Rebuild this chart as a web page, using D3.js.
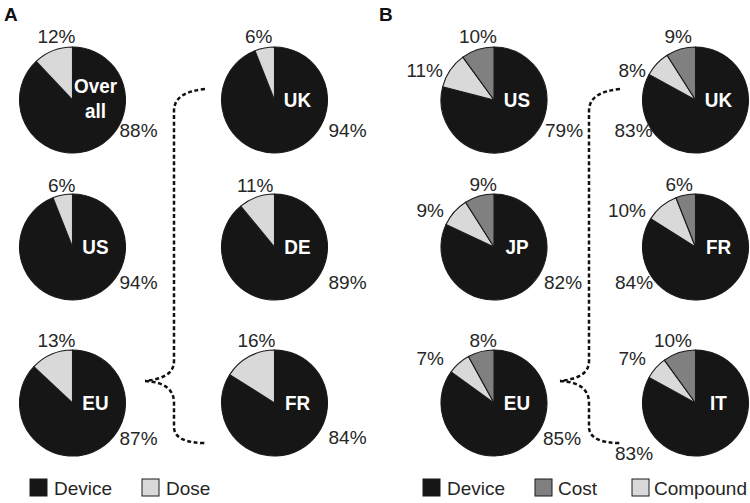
<!DOCTYPE html>
<html><head><meta charset="utf-8">
<script src="https://cdn.jsdelivr.net/npm/d3@7"></script>
<style>
html,body{margin:0;padding:0;background:#fff;}
svg{display:block;font-family:"Liberation Sans",Arial,sans-serif;}
</style></head>
<body>
<svg id="chart" width="750" height="503"></svg>
<script>
// ---- data ----
const regionsA = ["Over all", "UK", "US", "DE", "EU", "FR"];
const deviceA = [88, 94, 94, 89, 87, 84];
const doseA = [12, 6, 6, 11, 13, 16];

const regionsB = ["US", "UK", "JP", "FR", "EU", "IT"];
const deviceB = [79, 83, 82, 84, 85, 83];
const compoundB = [11, 8, 9, 10, 7, 7];
const costB = [10, 9, 9, 6, 8, 10];

const legendA = ["Device", "Dose"];
const legendB = ["Device", "Cost", "Compound"];

// ---- layout (not data) ----
const W = 750, H = 503, R = 53;
const rowY = [100, 247, 403];
const colXA = [72.5, 274.5];
const colXB = [494, 695.5];
const color = {Device: "#161616", Dose: "#d9d9d9", Cost: "#808080", Compound: "#d9d9d9"};

// label offsets relative to pie centre: [dx, dy] for each slice label
const labA = [
  {dev: [47, 37], top: [3, -57]}, {dev: [54, 37], top: [-2, -57]},
  {dev: [47, 42], top: [3, -55]}, {dev: [54, 42], top: [-1, -55]},
  {dev: [47, 42], top: [3, -56]}, {dev: [54, 41], top: [1, -56]}
];
const labB = [
  {dev: [51, 37], cost: [3, -57], comp: [-51, -23]},
  {dev: [-81, 37], cost: [-3.5, -57], comp: [-49.5, -23]},
  {dev: [50, 42], cost: [3, -56], comp: [-50, -30]},
  {dev: [-80.5, 42], cost: [-2.5, -56], comp: [-49.5, -30]},
  {dev: [49, 42], cost: [3, -56], comp: [-50, -38]},
  {dev: [-80.5, 57], cost: [-3.5, -56], comp: [-49.5, -38]}
];

const svg = d3.select("#chart");
const pie = d3.pie().sort(null).value(d => d.v);
const arc = d3.arc().innerRadius(0).outerRadius(R);

function drawPie(cx, cy, slices) {
  const g = svg.append("g").attr("transform", `translate(${cx},${cy})`);
  g.selectAll("path").data(pie(slices)).join("path")
    .attr("d", arc)
    .attr("fill", d => color[d.data.k])
    .attr("stroke", "#1a1a1a")
    .attr("stroke-width", 1.1)
    .attr("stroke-linejoin", "round");
  return g;
}

function pct(x, y, txt, anchor) {
  svg.append("text").attr("x", x).attr("y", y)
    .attr("text-anchor", anchor)
    .attr("font-size", 19).attr("fill", "#262626")
    .text(txt + "%");
}

function centerLabel(cx, cy, name) {
  const lines = name.split(" ");
  const t = svg.append("text")
    .attr("transform", `translate(${cx + 23},${cy + (lines.length > 1 ? -7 : 7)}) scale(0.9,1)`)
    .attr("text-anchor", "middle").attr("font-size", 21).attr("font-weight", "bold")
    .attr("fill", "#fff");
  lines.forEach((l, i) => t.append("tspan").attr("x", 0).attr("dy", i === 0 ? 0 : 25).text(l));
}

// Panel A
regionsA.forEach((name, i) => {
  const cx = colXA[i % 2], cy = rowY[Math.floor(i / 2)];
  drawPie(cx, cy, [{k: "Device", v: deviceA[i]}, {k: "Dose", v: doseA[i]}]);
  centerLabel(cx, cy, name);
  const L = labA[i];
  pct(cx + L.dev[0], cy + L.dev[1], deviceA[i], "start");
  pct(cx + L.top[0], cy + L.top[1], doseA[i], "end");
});

// Panel B
regionsB.forEach((name, i) => {
  const cx = colXB[i % 2], cy = rowY[Math.floor(i / 2)];
  drawPie(cx, cy, [{k: "Device", v: deviceB[i]}, {k: "Compound", v: compoundB[i]}, {k: "Cost", v: costB[i]}]);
  centerLabel(cx, cy, name);
  const L = labB[i];
  pct(cx + L.dev[0], cy + L.dev[1], deviceB[i], "start");
  pct(cx + L.cost[0], cy + L.cost[1], costB[i], "end");
  pct(cx + L.comp[0], cy + L.comp[1], compoundB[i], "end");
});

// panel letters
svg.append("text").attr("x", 4).attr("y", 21).attr("font-size", 19).attr("font-weight", "bold").attr("fill", "#111").text("A");
svg.append("text").attr("x", 379).attr("y", 21).attr("font-size", 19).attr("font-weight", "bold").attr("fill", "#111").text("B");

// dashed brackets
function bracket(x0) {
  // x0: x of vertical line
  const top = rowY[0] - 11, tipY = rowY[2] - 22, bot = rowY[2] + 40;
  const up = `M${x0 + 31},${top} C${x0 + 12},${top + 2} ${x0},${top + 8} ${x0},${top + 22} L${x0},${tipY - 20} C${x0},${tipY - 8} ${x0 - 10},${tipY - 2} ${x0 - 29},${tipY}`;
  const down = `M${x0 - 29},${tipY} C${x0 - 10},${tipY + 1} ${x0},${tipY + 8} ${x0},${tipY + 22} L${x0},${bot - 16} C${x0},${bot - 5} ${x0 + 12},${bot} ${x0 + 31},${bot}`;
  [up, down].forEach(d => svg.append("path").attr("d", d)
    .attr("fill", "none").attr("stroke", "#111").attr("stroke-width", 2.5)
    .attr("stroke-dasharray", "4,2.6"));
}
bracket(174);
bracket(589);

// legends
function legend(items, xs, txs) {
  items.forEach((k, i) => {
    svg.append("rect").attr("x", xs[i]).attr("y", 479).attr("width", 17).attr("height", 17)
      .attr("fill", color[k]).attr("stroke", "#1a1a1a").attr("stroke-width", 1);
    svg.append("text").attr("x", txs[i]).attr("y", 495).attr("font-size", 19).attr("fill", "#262626").text(k);
  });
}
legend(legendA, [30, 142], [54, 166]);
legend(legendB, [423, 535, 632], [447, 558, 654]);
</script>
</body></html>
